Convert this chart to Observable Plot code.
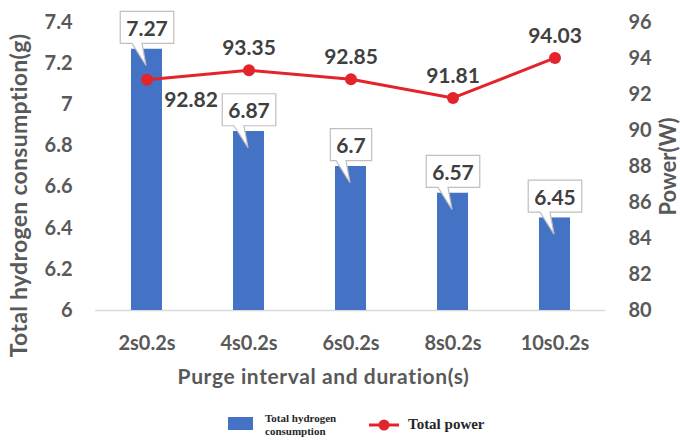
<!DOCTYPE html>
<html>
<head>
<meta charset="utf-8">
<script src="https://cdn.jsdelivr.net/npm/d3@7"></script>
<script src="https://cdn.jsdelivr.net/npm/@observablehq/plot@0.6"></script>
<style>
  html, body { margin: 0; padding: 0; background: #fff; }
  #wrap { position: relative; width: 680px; height: 441px; overflow: hidden; }
  #chart svg { display: block; }
  .lg { position: absolute; font-family: "Liberation Serif", "DejaVu Serif", serif; font-weight: bold; color: #262626; }
</style>
</head>
<body>
<div id="wrap">
  <div id="chart"></div>
  <div class="lg" style="left:228px;top:417px;width:25px;height:13px;background:#4472c4;"></div>
  <div class="lg" style="left:265px;top:412px;font-size:11px;line-height:13px;">Total hydrogen<br>consumption</div>
  <svg class="lg" style="left:368px;top:417px;" width="32" height="16">
    <line x1="1" y1="8" x2="31" y2="8" stroke="#e3242b" stroke-width="3"></line>
    <circle cx="16" cy="8" r="5.5" fill="#e3242b"></circle>
  </svg>
  <div class="lg" style="left:408px;top:415px;font-size:15px;line-height:18px;">Total power</div>
</div>
<script>
const categories = ["2s0.2s", "4s0.2s", "6s0.2s", "8s0.2s", "10s0.2s"];
const hydrogen = [7.27, 6.87, 6.7, 6.57, 6.45];
const power = [92.82, 93.35, 92.85, 91.81, 94.03];
const leftTicks = [6, 6.2, 6.4, 6.6, 6.8, 7, 7.2, 7.4];
const rightTicks = [80, 82, 84, 86, 88, 90, 92, 94, 96];
const leftTitle = "Total hydrogen consumption(g)";
const rightTitle = "Power(W)";
const xTitle = "Purge interval and duration(s)";

// map power (W) onto the hydrogen axis: 80..96 -> 6..7.4
const toH = p => 6 + (p - 80) * (1.4 / 16);
const fromH = h => Math.round(80 + (h - 6) * 16 / 1.4);

const data = categories.map((c, i) => ({cat: c, h: hydrogen[i], p: power[i], ph: toH(power[i])}));

const labelColor = "#595959";
const valueColor = "#404040";
const calloutColor = "#3f3f3f";
const red = "#e3242b";

const chart = Plot.plot({
  width: 680,
  height: 400,
  marginLeft: 95,
  marginRight: 75,
  marginTop: 22,
  marginBottom: 90,
  style: {fontFamily: "Lato, 'Open Sans', sans-serif", fontSize: "20px", fontWeight: "bold", color: labelColor, background: "#fff"},
  x: {domain: categories, paddingInner: 0.7, paddingOuter: 0.35},
  y: {domain: [6, 7.4]},
  marks: [
    Plot.ruleY([6], {stroke: "#d9d9d9", strokeWidth: 1.5}),
    Plot.barY(data, {x: "cat", y1: 6, y2: "h", fill: "#4472c4"}),
    Plot.axisY({ticks: leftTicks, tickFormat: d => String(+d.toFixed(1)), tickSize: 0, tickPadding: 23, label: null}),
    Plot.axisY({anchor: "right", ticks: rightTicks.map(toH), tickFormat: fromH, tickSize: 0, tickPadding: 23, label: null}),
    Plot.axisX({tickSize: 0, tickPadding: 25, label: null}),
    Plot.text([xTitle], {frameAnchor: "bottom", textAnchor: "middle", lineAnchor: "middle", dx: -27, dy: 67, fontSize: 21, fontWeight: "bold", fill: labelColor}),
    Plot.text([leftTitle], {frameAnchor: "left", textAnchor: "middle", lineAnchor: "middle", rotate: -90, dx: -76, dy: 29, fontSize: 23, fontWeight: "bold", fill: labelColor}),
    Plot.text([rightTitle], {frameAnchor: "right", textAnchor: "middle", lineAnchor: "middle", rotate: -90, dx: 63, fontSize: 22, fontWeight: "bold", fill: labelColor}),
    Plot.text(data, {x: "cat", y: "h", text: d => String(d.h), dy: -20, fontSize: 21, fontWeight: "bold", fill: calloutColor}),
    Plot.line(data, {x: "cat", y: "ph", stroke: red, strokeWidth: 3}),
    Plot.dot(data, {x: "cat", y: "ph", r: 6, fill: red}),
    Plot.text(data.slice(0, 1), {x: "cat", y: "ph", text: d => d.p.toFixed(2), dx: 44, dy: 21, fontSize: 21, fontWeight: "bold", fill: valueColor}),
    Plot.text(data.slice(1), {x: "cat", y: "ph", text: d => d.p.toFixed(2), dy: -22, fontSize: 21, fontWeight: "bold", fill: valueColor})
  ]
});

document.getElementById("chart").append(chart);

// slightly wider title lettering, as in the reference
chart.querySelectorAll("text").forEach(t => {
  if (t.textContent === xTitle) t.style.letterSpacing = "0.6px";
  if (t.textContent === leftTitle) t.style.letterSpacing = "0.3px";
});

// callout boxes behind the bar value labels
const calloutTexts = Array.from(chart.querySelectorAll("text")).filter(t => {
  const own = t.getAttribute("fill");
  const par = t.parentNode && t.parentNode.getAttribute && t.parentNode.getAttribute("fill");
  return own === calloutColor || par === calloutColor;
});
calloutTexts.forEach(function (el) {
  const b = el.getBBox();
  const cx = b.x + b.width / 2, cy = b.y + b.height / 2;
  const w = b.width + 12, h = 32;
  const x0 = cx - w / 2, y0 = cy - h / 2, x1 = cx + w / 2, y1 = cy + h / 2;
  const p = document.createElementNS("http://www.w3.org/2000/svg", "path");
  p.setAttribute("d", `M${x0},${y0}H${x1}V${y1}H${cx - 5}L${cx - 1},${y1 + 22}L${cx - 15},${y1}H${x0}Z`);
  p.setAttribute("fill", "#fff");
  p.setAttribute("stroke", "#bfbfbf");
  p.setAttribute("stroke-width", "1.2");
  const t = el.getAttribute("transform");
  if (t) p.setAttribute("transform", t);
  el.parentNode.insertBefore(p, el);
});
</script>
</body>
</html>
